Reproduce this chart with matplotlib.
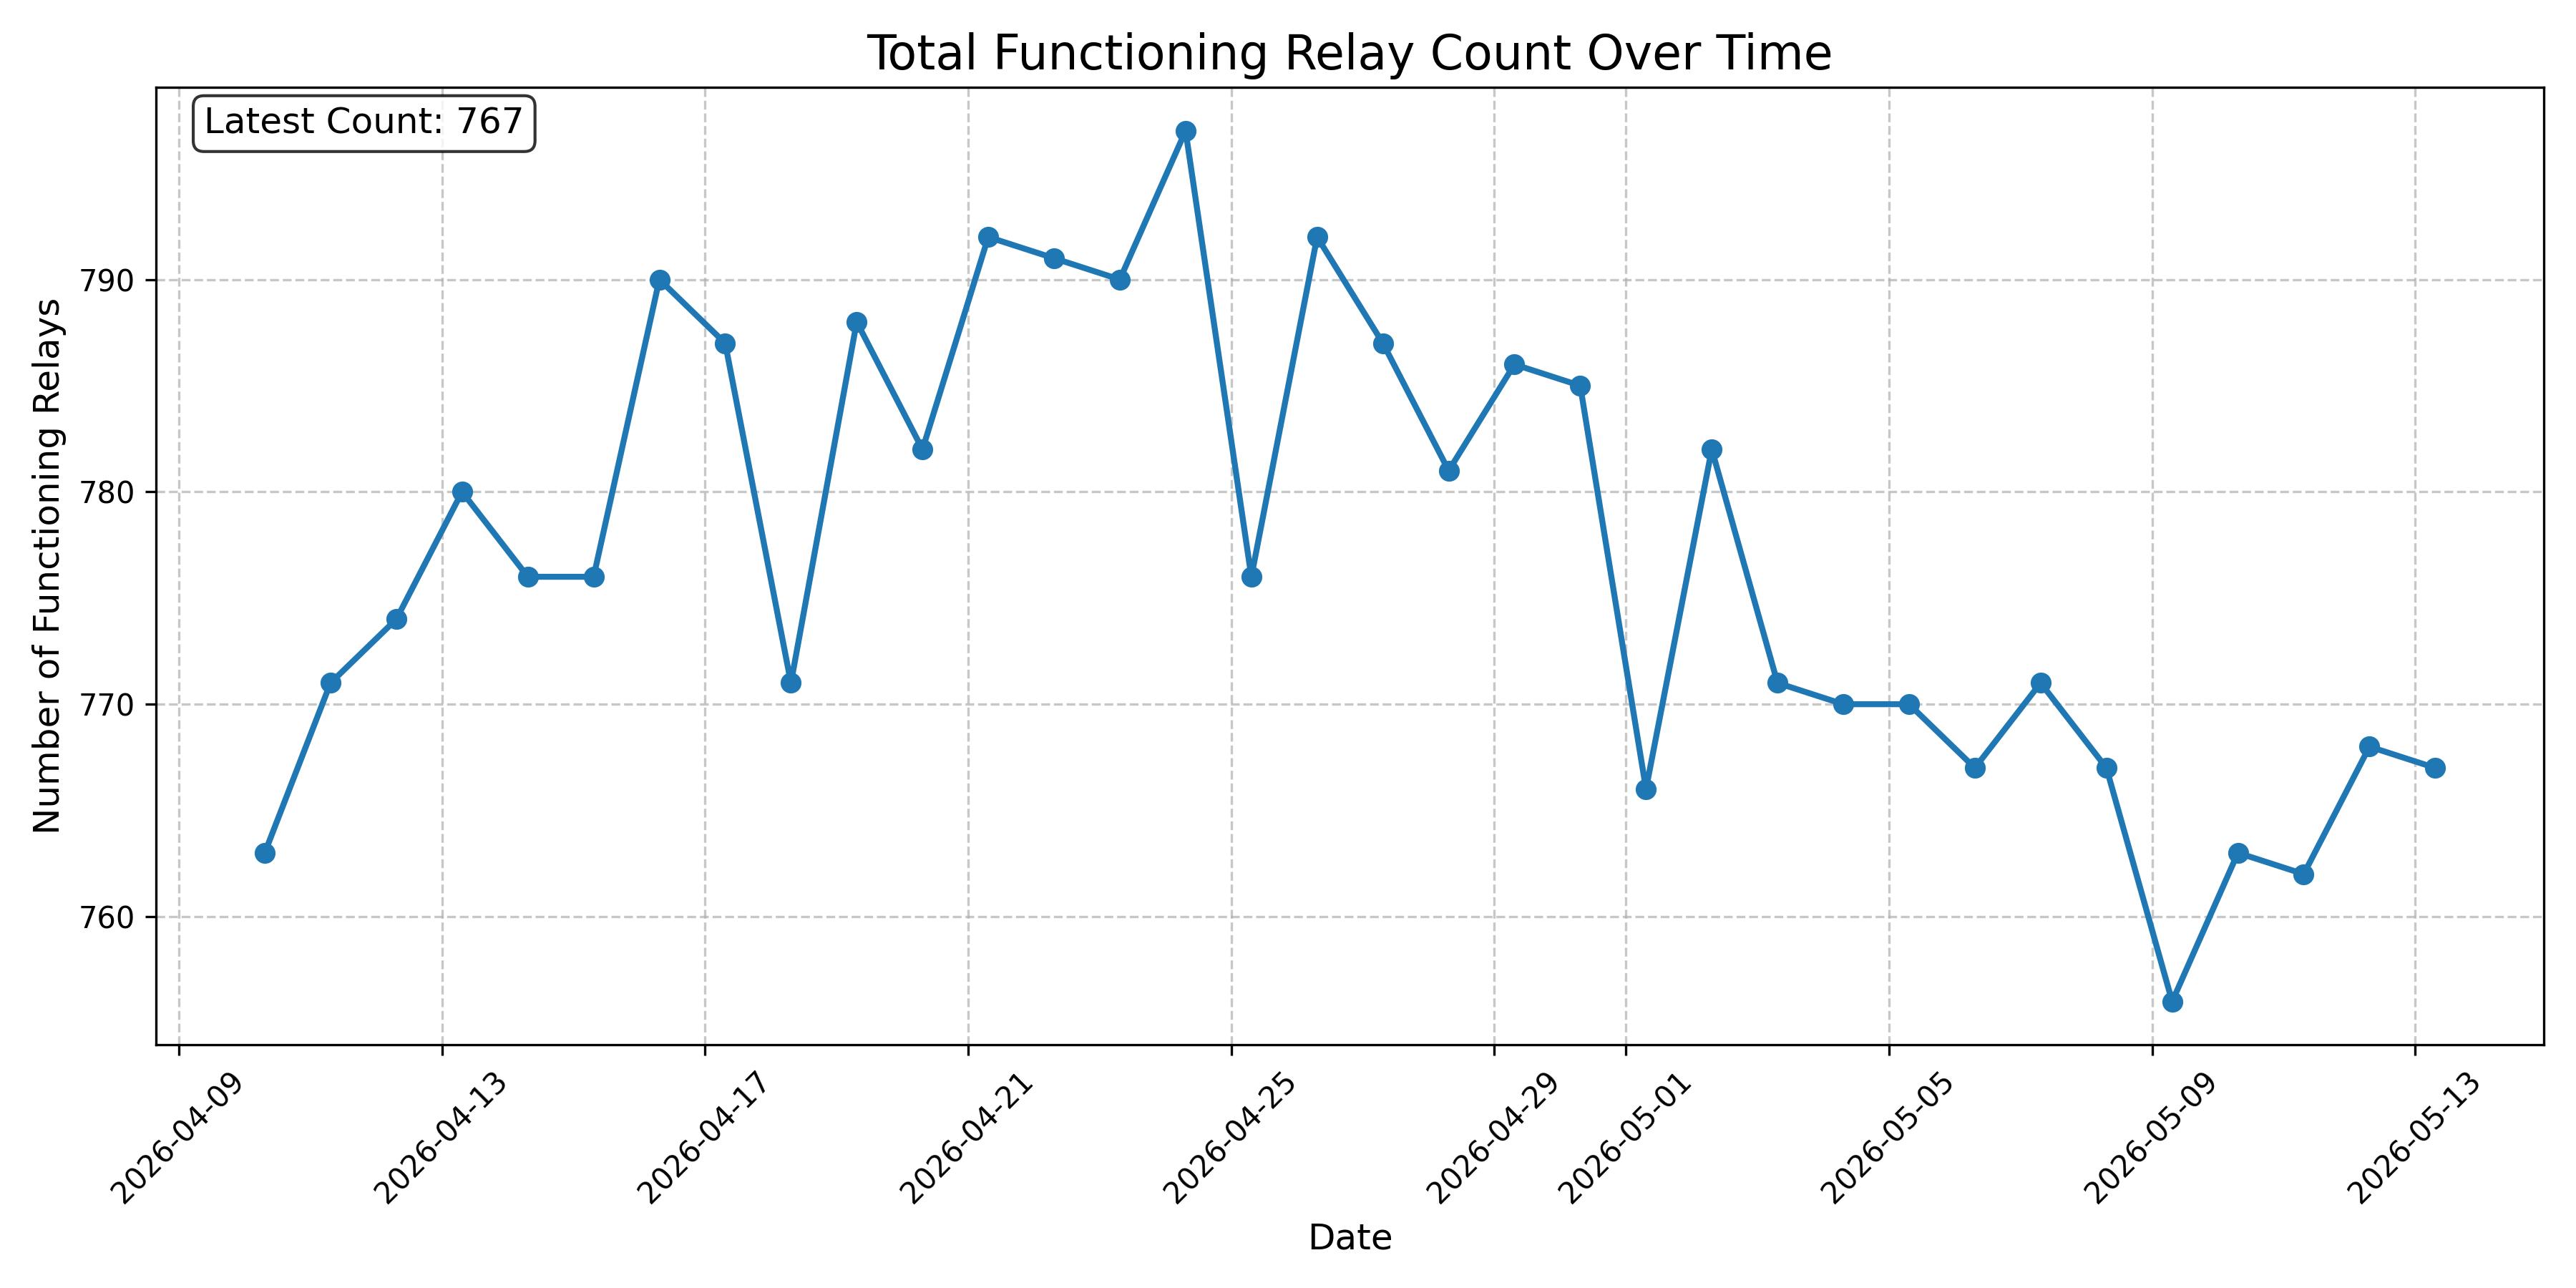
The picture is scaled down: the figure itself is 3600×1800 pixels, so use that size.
import matplotlib
matplotlib.use("Agg")
import matplotlib.pyplot as plt
import matplotlib.dates as mdates
import pandas as pd

start_date = "2026-04-10 07:20"
counts = [763, 771, 774, 780, 776, 776, 790, 787, 771, 788, 782, 792, 791, 790,
          797, 776, 792, 787, 781, 786, 785, 766, 782, 771, 770, 770, 767, 771,
          767, 756, 763, 762, 768, 767]
dates = pd.date_range(start=start_date, periods=len(counts), freq="D")

fig, ax = plt.subplots(figsize=(12, 6), dpi=300)
ax.plot(dates, counts, marker="o", linestyle="-", linewidth=2, markersize=6, color="#1f77b4")
ax.set_title("Total Functioning Relay Count Over Time", fontsize=16)
ax.set_xlabel("Date", fontsize=12)
ax.set_ylabel("Number of Functioning Relays", fontsize=12)
ax.grid(True, linestyle="--", alpha=0.7)
ax.xaxis.set_major_locator(mdates.DayLocator(bymonthday=[1, 5, 9, 13, 17, 21, 25, 29]))
ax.xaxis.set_major_formatter(mdates.DateFormatter("%Y-%m-%d"))
plt.setp(ax.get_xticklabels(), rotation=45)
ax.text(0.02, 0.98, f"Latest Count: {counts[-1]}", transform=ax.transAxes,
        fontsize=12, va="top",
        bbox=dict(boxstyle="round", facecolor="white", alpha=0.8))
fig.tight_layout()
fig.savefig("out.png", dpi=300)
